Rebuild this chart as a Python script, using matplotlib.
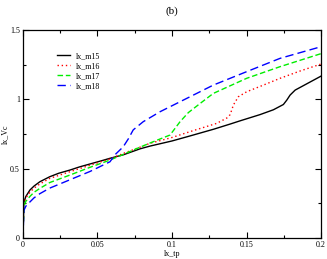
import numpy as np
import matplotlib.pyplot as plt
from matplotlib.ticker import MultipleLocator

# values
m15_x = [0, 0.0007, 0.002, 0.0047, 0.0075, 0.0114, 0.018, 0.024, 0.0315, 0.038,
         0.045, 0.052, 0.0584, 0.0673, 0.0785, 0.0852, 0.1, 0.112, 0.128, 0.139,
         0.1456, 0.159, 0.168, 0.1747, 0.177, 0.1792, 0.1826, 0.19, 0.2]
m15_y = [0, 0.26, 0.30, 0.346, 0.375, 0.406, 0.442, 0.467, 0.49, 0.513,
         0.534, 0.555, 0.575, 0.60, 0.643, 0.663, 0.70, 0.736, 0.785, 0.822,
         0.845, 0.89, 0.925, 0.963, 0.995, 1.031, 1.067, 1.11, 1.168]

m16_x = [0, 0.0007, 0.002, 0.0047, 0.0075, 0.0114, 0.018, 0.0315, 0.045, 0.0584,
         0.0673, 0.0785, 0.0852, 0.1, 0.112, 0.13, 0.1367, 0.139, 0.1412, 0.1445,
         0.1501, 0.1613, 0.1725, 0.186, 0.2]
m16_y = [0, 0.25, 0.29, 0.33, 0.36, 0.39, 0.43, 0.478, 0.525, 0.57,
         0.61, 0.655, 0.683, 0.725, 0.767, 0.827, 0.865, 0.89, 0.96, 1.019,
         1.055, 1.103, 1.152, 1.205, 1.255]

m17_x = [0, 0.0007, 0.002, 0.0047, 0.0075, 0.0114, 0.018, 0.0315, 0.045, 0.0584,
         0.0785, 0.0875, 0.0987, 0.1054, 0.111, 0.1188, 0.1277, 0.1501,
         0.1725, 0.2]
m17_y = [0, 0.23, 0.265, 0.30, 0.33, 0.358, 0.40, 0.454, 0.51, 0.562,
         0.655, 0.695, 0.743, 0.839, 0.905, 0.97, 1.043, 1.152,
         1.236, 1.33]

m18_x = [0, 0.0007, 0.002, 0.0047, 0.0075, 0.0114, 0.018, 0.0248, 0.0315, 0.045,
         0.0584, 0.0617, 0.0673, 0.0707, 0.074, 0.0807, 0.092, 0.1054, 0.1188,
         0.1277, 0.1501, 0.1725, 0.2]
m18_y = [0, 0.20, 0.23, 0.26, 0.29, 0.32, 0.36, 0.39, 0.42, 0.48,
         0.55, 0.60, 0.658, 0.715, 0.78, 0.839, 0.911, 0.983, 1.055,
         1.103, 1.2, 1.296, 1.38]

x_ticks = [0, 0.05, 0.1, 0.15, 0.2]
x_ticklabels = ['0', '0.05', '0.1', '0.15', '0.2']
y_ticks = [0, 0.5, 1, 1.5]
y_ticklabels = ['0', '0.5', '1', '1.5']

plt.rcParams['font.family'] = 'Liberation Serif'
fs = 5.8

fig = plt.figure(figsize=(3.27, 2.59), dpi=100)
ax = fig.add_axes([0.070, 0.081, 0.912, 0.803])

ax.plot(m15_x, m15_y, color='black', lw=1.0, label='lx_m15')
ax.plot(m16_x, m16_y, color='red', lw=1.0, ls=(0, (1, 2)), label='lx_m16')
ax.plot(m17_x, m17_y, color='#00ee00', lw=1.0, ls=(0, (4, 2)), label='lx_m17')
ax.plot(m18_x, m18_y, color='blue', lw=1.0, ls=(0, (6, 3)), label='lx_m18')

ax.set_xlim(0, 0.2)
ax.set_ylim(0, 1.5)
ax.set_xticks(x_ticks, labels=x_ticklabels)
ax.set_yticks(y_ticks, labels=y_ticklabels)
ax.xaxis.set_minor_locator(MultipleLocator(0.025))
ax.yaxis.set_minor_locator(MultipleLocator(0.25))
ax.tick_params(which='both', direction='in', top=True, right=True,
               labelsize=fs, width=0.8, pad=2)
ax.tick_params(which='major', length=4)
ax.tick_params(which='minor', length=2)
for s in ax.spines.values():
    s.set_linewidth(0.9)

ax.set_xlabel('lx_tp', fontsize=fs, labelpad=1)
ax.set_ylabel('lx_Vc', fontsize=fs, labelpad=1)
ax.set_title('(b)', fontsize=8, pad=12)

ax.legend(loc='upper left', bbox_to_anchor=(0.09, 0.93), frameon=False,
          fontsize=fs, handlelength=1.6, handletextpad=0.8, labelspacing=0.25)

fig.savefig('out.png', dpi=100)
